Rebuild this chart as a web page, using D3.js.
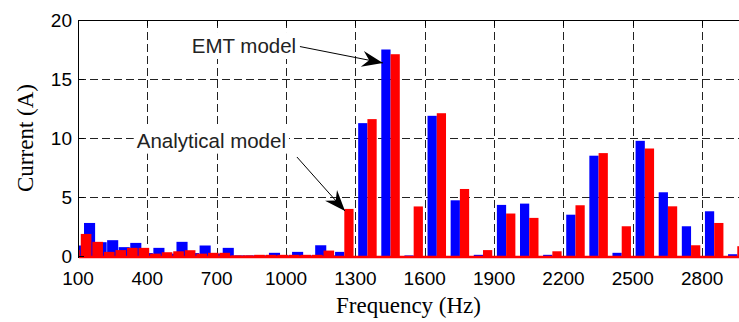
<!DOCTYPE html>
<html>
<head>
<meta charset="utf-8">
<script src="https://cdn.jsdelivr.net/npm/d3@7"></script>
<style>
  html, body { margin: 0; padding: 0; background: #fff; }
  svg { display: block; }
</style>
</head>
<body>
<div id="chart"></div>
<script>
// harmonic spectrum, low band (every 50 Hz)
var lowFreq = [100, 150, 200, 250, 300, 350, 400, 450, 500, 550, 600, 650,
  700, 750, 800, 850, 900, 950, 1000, 1050, 1100, 1150, 1200];
var lowEmt = [0.89, 2.8, 1.17, 1.34, 0.75, 1.11, 0.25, 0.69, 0.2, 1.2, 0.25, 0.89,
  0.2, 0.69, 0.05, 0.05, 0.05, 0.27, 0.05, 0.35, 0.05, 0.91, 0.05];
var lowAna = [0.5, 1.87, 1.2, 0.35, 0.5, 0.69, 0.69, 0.2, 0.32, 0.4, 0.49, 0.2,
  0.27, 0.27, 0.05, 0.05, 0.1, 0.1, 0.1, 0.1, 0.1, 0.1, 0.46];

// high band (odd multiples of 50 Hz)
var highFreq = [1250, 1350, 1450, 1550, 1650, 1750, 1850, 1950, 2050, 2150,
  2250, 2350, 2450, 2550, 2650, 2750, 2850, 2950];
var highEmt = [0.35, 11.26, 17.5, 0.05, 11.88, 4.72, 0.1, 4.33, 4.44, 0.1,
  3.5, 8.5, 0.27, 9.76, 5.4, 2.52, 3.79, 0.15];
var highAna = [3.99, 11.6, 17.1, 4.2, 12.1, 5.68, 0.5, 3.6, 3.23, 0.4,
  4.3, 8.72, 2.52, 9.11, 4.21, 0.91, 2.8, 0.83];

var xTicks = [100, 400, 700, 1000, 1300, 1600, 1900, 2200, 2500, 2800];
var yTicks = [0, 5, 10, 15, 20];

var width = 739, height = 322;
// note: "top" is taken by window.top, so use other names
var pLeft = 78, pTop = 20, pBottom = 256;
var pRight = width;

var svg = d3.select('#chart').append('svg')
  .attr('width', width)
  .attr('height', height);

var x = d3.scaleLinear().domain([100, 3000]).range([pLeft, pLeft + 2900 * 0.23117]);
var y = d3.scaleLinear().domain([0, 20]).range([pBottom, pTop]);

svg.append('clipPath').attr('id', 'plot')
  .append('rect')
  .attr('x', pLeft + 1).attr('y', pTop)
  .attr('width', pRight - pLeft - 1).attr('height', pBottom - pTop + 3);

// grid, dashed
var grid = svg.append('g')
  .attr('stroke', '#222')
  .attr('stroke-width', 1)
  .attr('stroke-dasharray', '8,4');

grid.selectAll('.vg')
  .data(xTicks.filter(function(d) { return d > 100; }))
  .enter().append('line')
  .attr('x1', function(d) { return Math.round(x(d)) + 0.5; })
  .attr('x2', function(d) { return Math.round(x(d)) + 0.5; })
  .attr('y1', pTop).attr('y2', pBottom);

grid.selectAll('.hg')
  .data(yTicks.filter(function(d) { return d > 0 && d < 20; }))
  .enter().append('line')
  .attr('x1', pLeft).attr('x2', pRight)
  .attr('y1', function(d) { return Math.round(y(d)) + 0.5; })
  .attr('y2', function(d) { return Math.round(y(d)) + 0.5; });

var bars = svg.append('g').attr('clip-path', 'url(#plot)');

function addBars(freq, vals, offset, w, color) {
  bars.append('g').selectAll('rect')
    .data(freq)
    .enter().append('rect')
    .attr('x', function(d) { return x(d + offset - w / 2); })
    .attr('width', function(d) { return x(d + offset + w / 2) - x(d + offset - w / 2); })
    .attr('y', function(d, i) { return y(vals[i]); })
    .attr('height', function(d, i) { return y(0) - y(vals[i]); })
    .attr('fill', color);
}

// low band: blue at f, red slightly left, red on top
addBars(lowFreq, lowEmt, 0, 48, '#0000ff');
addBars(lowFreq, lowAna, -15, 46, '#ff0000');
// high band: grouped pairs
addBars(highFreq, highEmt, -18, 40, '#0000ff');
addBars(highFreq, highAna, 22, 40, '#ff0000');

// axes frame
svg.append('line')
  .attr('x1', pLeft + 0.5).attr('x2', pLeft + 0.5)
  .attr('y1', pTop).attr('y2', pBottom + 2)
  .attr('stroke', '#000');
svg.append('line')
  .attr('x1', pLeft).attr('x2', pRight)
  .attr('y1', pTop + 0.5).attr('y2', pTop + 0.5)
  .attr('stroke', '#000');

// red baseline along the bottom
svg.append('line')
  .attr('x1', pLeft + 1).attr('x2', pRight)
  .attr('y1', y(0) + 1).attr('y2', y(0) + 1)
  .attr('stroke', '#ff0000')
  .attr('stroke-width', 2.5);

// tick marks
svg.append('g').selectAll('line')
  .data(xTicks)
  .enter().append('line')
  .attr('x1', function(d) { return Math.round(x(d)) + 0.5; })
  .attr('x2', function(d) { return Math.round(x(d)) + 0.5; })
  .attr('y1', pTop).attr('y2', pTop + 6)
  .attr('stroke', '#000');
svg.append('g').selectAll('line')
  .data(yTicks)
  .enter().append('line')
  .attr('x1', pLeft).attr('x2', pLeft + 6)
  .attr('y1', function(d) { return Math.round(y(d)) + 0.5; })
  .attr('y2', function(d) { return Math.round(y(d)) + 0.5; })
  .attr('stroke', '#000');

// tick labels
svg.append('g').selectAll('text')
  .data(xTicks)
  .enter().append('text')
  .attr('x', function(d) { return x(d); })
  .attr('y', 285)
  .attr('text-anchor', 'middle')
  .style('font', '19px "Liberation Sans", Arial, sans-serif')
  .text(function(d) { return d; });

svg.append('g').selectAll('text')
  .data(yTicks)
  .enter().append('text')
  .attr('x', 72)
  .attr('y', function(d) { return y(d) + 7; })
  .attr('text-anchor', 'end')
  .style('font', '19px "Liberation Sans", Arial, sans-serif')
  .text(function(d) { return d; });

// axis titles
svg.append('text')
  .attr('x', (pLeft + width) / 2)
  .attr('y', 313)
  .attr('text-anchor', 'middle')
  .style('font', '23px "Liberation Serif", "Times New Roman", serif')
  .text('Frequency (Hz)');

svg.append('text')
  .attr('transform', 'translate(33,' + ((pTop + pBottom) / 2) + ') rotate(-90)')
  .attr('text-anchor', 'middle')
  .style('font', '23px "Liberation Serif", "Times New Roman", serif')
  .text('Current (A)');

// annotations with arrows
function arrowHead(g, x1, y1, x2, y2) {
  var a = Math.atan2(y2 - y1, x2 - x1);
  var len = 21, hw = 8, notch = 14;
  var ca = Math.cos(a), sa = Math.sin(a);
  var pts = [
    [x2, y2],
    [x2 - len * ca + hw * sa, y2 - len * sa - hw * ca],
    [x2 - notch * ca, y2 - notch * sa],
    [x2 - len * ca - hw * sa, y2 - len * sa + hw * ca]
  ];
  g.append('path')
    .attr('d', 'M' + pts.join('L') + 'Z')
    .attr('fill', '#000');
}

function annotate(label, tx, ty, ax1, ay1, ax2, ay2) {
  var g = svg.append('g');
  var bg = g.append('rect').attr('fill', '#fff');
  var t = g.append('text')
    .attr('x', x(tx)).attr('y', y(ty))
    .style('font', '20.5px "Liberation Sans", Arial, sans-serif')
    .attr('fill', '#222')
    .text(label);
  var bb = t.node().getBBox();
  bg.attr('x', bb.x - 3).attr('y', bb.y - 2)
    .attr('width', bb.width + 6).attr('height', bb.height + 4);
  g.append('line')
    .attr('x1', x(ax1)).attr('y1', y(ay1))
    .attr('x2', x(ax2)).attr('y2', y(ay2))
    .attr('stroke', '#000').attr('stroke-width', 1);
  arrowHead(g, x(ax1), y(ay1), x(ax2), y(ay2));
}

annotate('EMT model', 592, 17.2, 1060, 17.75, 1419, 16.36);
annotate('Analytical model', 354, 9.18, 1047, 8.39, 1255, 3.81);
</script>
</body>
</html>
